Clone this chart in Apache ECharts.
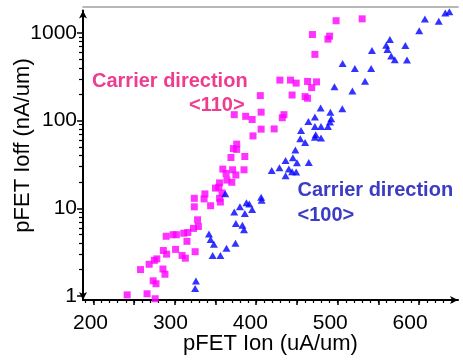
<!DOCTYPE html>
<html>
<head>
<meta charset="utf-8">
<script src="https://cdn.jsdelivr.net/npm/echarts@6/dist/echarts.min.js"></script>
<style>
  html, body { margin: 0; padding: 0; background: #fff; }
  #chart { width: 463px; height: 360px; }
</style>
</head>
<body>
<div id="chart"></div>
<script>
// <110> carrier direction (magenta squares)
const ion110 = [530, 498, 469, 490, 488, 472, 429, 442, 449, 463, 474, 468, 405, 444, 460, 463,
  406, 373, 387, 395, 434, 432, 406, 422, 396, 376, 372, 376, 386, 369, 359, 371, 385, 363, 375,
  364, 370, 355, 350, 354, 358, 337, 336, 324, 355, 356, 324, 344, 328, 329, 323, 316, 311, 302,
  298, 289.5, 315, 286, 290, 301, 309, 313, 325, 278, 275, 268.6, 258, 285.5, 288, 273.5, 277,
  241.6, 266, 276]
const ioff110 = [1450, 1380, 960, 920, 850, 570, 290, 290, 268, 280, 277, 238, 193, 196, 188, 180,
  125, 117, 112, 103, 117, 108, 80, 80.5, 67, 54, 48, 47, 39, 38, 28, 27.5, 27.5, 25, 24,
  21, 19.8, 19.5, 17, 17.4, 15, 14.6, 12.8, 13, 13, 11.8, 10.4, 10.7, 7.4, 6.2, 5.9, 5.3, 5.2, 5.0,
  5.0, 4.8, 4.2, 3.3, 3.0, 3.4, 2.9, 2.7, 3.2, 2.65, 2.55, 2.3, 2.0, 2.03, 1.77, 1.49, 1.38,
  1.03, 1.06, 0.93]

// <100> carrier direction (blue triangles)
const ion100 = [637, 632, 607, 624, 600, 564, 559.5, 561, 583, 542, 565.6, 570, 585, 506, 521, 541,
  533.5, 496, 518, 479, 505.6, 491, 472, 464, 492, 490.5, 472, 479.5, 488, 455, 473, 472, 479.5,
  454, 460, 448, 445, 436, 450, 464.5, 428.5, 419, 440, 444, 449, 436, 406, 406.6, 362, 388, 391.5,
  380, 395, 373, 386, 375, 383, 385, 342, 344, 348, 374.5, 363.5, 346.5, 356, 326, 325]
const ioff100 = [1750, 1690, 1440, 1365, 1060, 840, 723, 648, 720, 631, 545, 496, 491, 448, 393, 393,
  281, 243, 218, 139, 137, 125, 110, 98, 105, 96.6, 86, 85.5, 85.5, 77, 69, 64.7, 63.4,
  62, 56.4, 46.4, 37.7, 35, 33, 33.4, 29, 27, 28, 26.2, 25.9, 23.6, 13.4, 12.4, 14.7, 11.6, 11.2,
  10.4, 9.7, 9.1, 8.7, 6.7, 6.4, 5.7, 5.1, 4.4, 3.9, 4.0, 3.5, 2.9, 2.9, 1.48, 1.22]

// tick labels / tick marks
const xTickLabels = [200, 300, 400, 500, 600]
const xMajorTicks = [200, 250, 300, 350, 400, 450, 500, 550, 600]
const xMinorTicks = []
for (let v = 190; v <= 640; v += 10) xMinorTicks.push(v)
const yTickLabels = [1, 10, 100, 1000]
const yMinorTicks = [2, 3, 4, 5, 6, 7, 8, 9, 20, 30, 40, 50, 60, 70, 80, 90,
  200, 300, 400, 500, 600, 700, 800, 900]

const FONT = 'Liberation Sans, Arial, sans-serif'
const zip = (xs, ys) => xs.map((x, i) => [x, ys[i]])

const chart = echarts.init(document.getElementById('chart'))
chart.setOption({
  animation: false,
  grid: { left: 83, right: 5, top: 10.6, bottom: 56.7 },
  xAxis: [
    {
      type: 'value', min: 187.4, max: 647.6, position: 'bottom',
      name: 'pFET Ion (uA/um)', nameLocation: 'middle', nameGap: 33,
      nameTextStyle: { fontFamily: FONT, fontSize: 22, color: '#000' },
      axisLine: { lineStyle: { color: '#000', width: 2 }, symbol: ['none', 'arrow'], symbolSize: [6, 8] },
      axisTick: { customValues: xMajorTicks, length: 5, lineStyle: { color: '#000', width: 1.5 } },
      axisLabel: { show: false },
      splitLine: { show: false },
    },
    {
      // minor ticks
      type: 'value', min: 187.4, max: 647.6, position: 'bottom',
      axisLine: { show: false },
      axisTick: { customValues: xMinorTicks, length: 3, lineStyle: { color: '#000', width: 1.2 } },
      axisLabel: { show: false },
      splitLine: { show: false },
    },
    {
      // tick labels (slightly offset in the original)
      type: 'value', min: 190.6, max: 659.9, position: 'bottom',
      axisLine: { show: false },
      axisTick: { show: false },
      axisLabel: { customValues: xTickLabels, margin: 13, fontFamily: FONT, fontSize: 21, color: '#000' },
      splitLine: { show: false },
    },
    {
      // top frame line
      type: 'value', min: 187.4, max: 647.6, position: 'top', offset: 4,
      axisLine: { lineStyle: { color: '#a0a0a0', width: 1.6 } },
      axisTick: { show: false },
      axisLabel: { show: false },
      splitLine: { show: false },
    },
  ],
  yAxis: [
    {
      type: 'log', logBase: 10, min: 0.9, max: 1800, position: 'left',
      axisLine: { lineStyle: { color: '#000', width: 2 }, symbol: ['arrow', 'arrow'], symbolSize: [6, 8] },
      axisTick: { length: 6, lineStyle: { color: '#000', width: 1.5 } },
      axisLabel: {
        margin: 6, fontFamily: FONT, fontSize: 21, color: '#000',
        showMinLabel: false, showMaxLabel: false,
        formatter: v => (yTickLabels.includes(Math.round(v)) ? String(Math.round(v)) : ''),
      },
      splitLine: { show: false },
    },
    {
      // minor ticks
      type: 'log', logBase: 10, min: 0.9, max: 1800, position: 'left',
      axisLine: { show: false },
      axisTick: { customValues: yMinorTicks, length: 4, lineStyle: { color: '#000', width: 1.2 } },
      axisLabel: { show: false },
      splitLine: { show: false },
    },
  ],
  series: [
    {
      name: '<110>', type: 'scatter', xAxisIndex: 0, yAxisIndex: 0, clip: false,
      data: zip(ion110, ioff110),
      symbol: 'rect', symbolSize: 7,
      itemStyle: { color: '#ff00ff' },
    },
    {
      name: '<100>', type: 'scatter', xAxisIndex: 0, yAxisIndex: 0, clip: false,
      data: zip(ion100, ioff100),
      symbol: 'triangle', symbolSize: [8, 7],
      itemStyle: { color: '#0000ff' },
    },
  ],
  graphic: [
    {
      type: 'text', x: 22.5, y: 145.5, rotation: Math.PI / 2,
      style: { text: 'pFET Ioff (nA/um)', font: '22px ' + FONT, fill: '#000', align: 'center', verticalAlign: 'middle' },
    },
    {
      type: 'text', left: 92, top: 71.4,
      style: { text: 'Carrier direction', font: 'bold 20px ' + FONT, fill: '#ee3d8f' },
    },
    {
      type: 'text', left: 189, top: 95.7,
      style: { text: '<110>', font: 'bold 20px ' + FONT, fill: '#ee3d8f' },
    },
    {
      type: 'text', left: 297.5, top: 180.1,
      style: { text: 'Carrier direction', font: 'bold 20px ' + FONT, fill: '#3b3bc4' },
    },
    {
      type: 'text', left: 297.5, top: 205.7,
      style: { text: '<100>', font: 'bold 20px ' + FONT, fill: '#3b3bc4' },
    },
  ],
})
</script>
</body>
</html>
